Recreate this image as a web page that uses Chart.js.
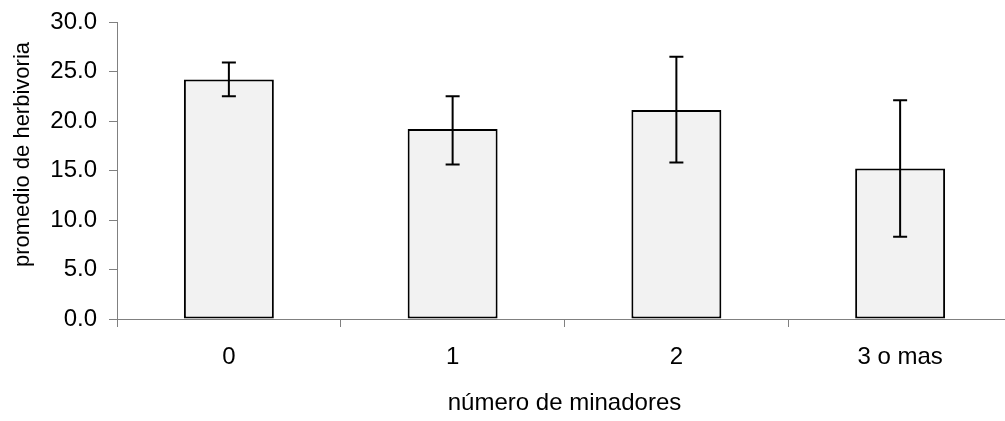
<!DOCTYPE html>
<html>
<head>
<meta charset="utf-8">
<script src="https://cdn.jsdelivr.net/npm/chart.js@4/dist/chart.umd.min.js"></script>
<style>
    html, body { margin: 0; padding: 0; background: #fff; overflow: hidden; }
    #wrap { width: 1012px; height: 421px; }
</style>
</head>
<body>
<div id="wrap"><canvas id="chartHerb"></canvas></div>
<script>
// Datos
const categorias = ['0', '1', '2', '3 o mas'];
const promedios = [24.2, 19.2, 21.1, 15.2];
const errSup = [25.9, 22.5, 26.5, 22.1];
const errInf = [22.5, 15.6, 15.8, 8.3];
const ticksY = [0, 5, 10, 15, 20, 25, 30];

const FONT = "'Liberation Sans', Arial, sans-serif";

// Barras de error dibujadas con las escalas del gráfico
const errorBars = {
    id: 'errorBars',
    afterDatasetsDraw(chart) {
        const ctx = chart.ctx;
        const x = chart.scales.x;
        const y = chart.scales.y;
        ctx.save();
        ctx.strokeStyle = '#000';
        ctx.lineWidth = 2;
        categorias.forEach((c, i) => {
            const px = x.getPixelForValue(i);
            const top = y.getPixelForValue(errSup[i]);
            const bot = y.getPixelForValue(errInf[i]);
            ctx.beginPath();
            ctx.moveTo(px, top); ctx.lineTo(px, bot);
            ctx.moveTo(px - 7, top); ctx.lineTo(px + 7, top);
            ctx.moveTo(px - 7, bot); ctx.lineTo(px + 7, bot);
            ctx.stroke();
        });
        ctx.restore();
    }
};

// Título del eje Y (algo desplazado hacia arriba, como en el original)
const yTitle = {
    id: 'yTitle',
    afterDraw(chart) {
        const ctx = chart.ctx;
        const area = chart.chartArea;
        ctx.save();
        ctx.translate(23, (area.top + area.bottom) / 2 - 16);
        ctx.rotate(-Math.PI / 2);
        ctx.fillStyle = '#000';
        ctx.font = `22px ${FONT}`;
        ctx.textAlign = 'center';
        ctx.textBaseline = 'middle';
        ctx.fillText('promedio de herbivoria', 0, 0);
        ctx.restore();
    }
};

new Chart(document.getElementById('chartHerb'), {
    type: 'bar',
    data: {
        labels: categorias,
        datasets: [{
            data: promedios,
            backgroundColor: '#f2f2f2',
            borderColor: '#000',
            borderWidth: 2,
            borderSkipped: false,
            categoryPercentage: 1,
            barPercentage: 0.402
        }]
    },
    options: {
        responsive: true,
        maintainAspectRatio: false,
        animation: false,
        layout: { padding: { top: 22, right: 0, left: 0, bottom: 0 } },
        scales: {
            x: {
                grid: { drawOnChartArea: false, tickLength: 8, color: '#808080', offset: true },
                border: { color: '#808080', width: 1 },
                ticks: { color: '#000', font: { family: FONT, size: 24 }, padding: 16 },
                title: {
                    display: true,
                    text: 'número de minadores',
                    color: '#000',
                    font: { family: FONT, size: 24 },
                    padding: { top: 14, bottom: 3 }
                },
                afterFit: (s) => { s.height = 102; }
            },
            y: {
                min: 0,
                max: 30,
                afterBuildTicks: (s) => { s.ticks = ticksY.map(v => ({ value: v })); },
                grid: { drawOnChartArea: false, tickLength: 8, color: '#808080' },
                border: { color: '#808080', width: 1 },
                ticks: {
                    color: '#000',
                    font: { family: FONT, size: 24 },
                    padding: 12,
                    callback: (v) => Number(v).toFixed(1)
                },
                afterFit: (s) => { s.width = 117; s.paddingTop = 0; s.paddingBottom = 0; }
            }
        },
        plugins: {
            legend: { display: false },
            tooltip: { enabled: false }
        }
    },
    plugins: [errorBars, yTitle]
});
</script>
</body>
</html>
